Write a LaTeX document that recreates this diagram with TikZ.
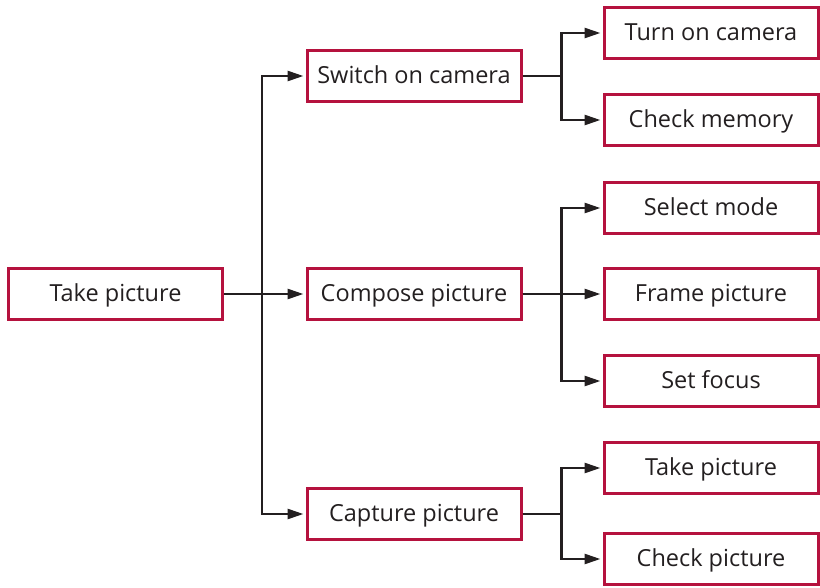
\documentclass[tikz,border=0pt]{standalone}
\usepackage{fontspec}
\setmainfont{Open Sans}
\usetikzlibrary{positioning,arrows.meta}
\definecolor{crim}{HTML}{B5123E}
\definecolor{ink}{HTML}{231F20}

\begin{document}
\begin{tikzpicture}[x=1pt, y=-1pt,
  task/.style={draw=crim, line width=3pt, fill=white, text=ink, font=\fontsize{23.5}{26}\selectfont, minimum width=214pt, minimum height=51pt, inner sep=0pt, text height=19.5pt, text depth=5pt},
  arr/.style={-{Triangle[length=16pt,width=10pt]}, line width=2.6pt, ink, shorten >=2pt}]
  \useasboundingbox (0,0) rectangle (820,587);

  \node[task] (take) at (115.5,294) {Take picture};

  \node[task] (switch) at (414,76) {Switch on camera};
  \node[task] (compose) at (414,294) {Compose picture};
  \node[task] (capture) at (414,514) {Capture picture};

  \node[task] (turnon) at (711,33) {Turn on camera};
  \node[task] (memory) at (711,120) {Check memory};
  \node[task] (mode) at (711,208) {Select mode};
  \node[task] (frame) at (711,294) {Frame picture};
  \node[task] (focus) at (711,381) {Set focus};
  \node[task] (shoot) at (711,468) {Take picture};
  \node[task] (check) at (711,559) {Check picture};

  \draw[arr] (take) -- (compose);
  \draw[arr] (take.east) -- ++(38,0) |- (switch);
  \draw[arr] (take.east) -- ++(38,0) |- (capture);

  \draw[arr] (switch.east) -- ++(39,0) |- (turnon);
  \draw[arr] (switch.east) -- ++(39,0) |- (memory);
  \draw[arr] (compose) -- (frame);
  \draw[arr] (compose.east) -- ++(39,0) |- (mode);
  \draw[arr] (compose.east) -- ++(39,0) |- (focus);
  \draw[arr] (capture.east) -- ++(39,0) |- (shoot);
  \draw[arr] (capture.east) -- ++(39,0) |- (check);
\end{tikzpicture}
\end{document}
